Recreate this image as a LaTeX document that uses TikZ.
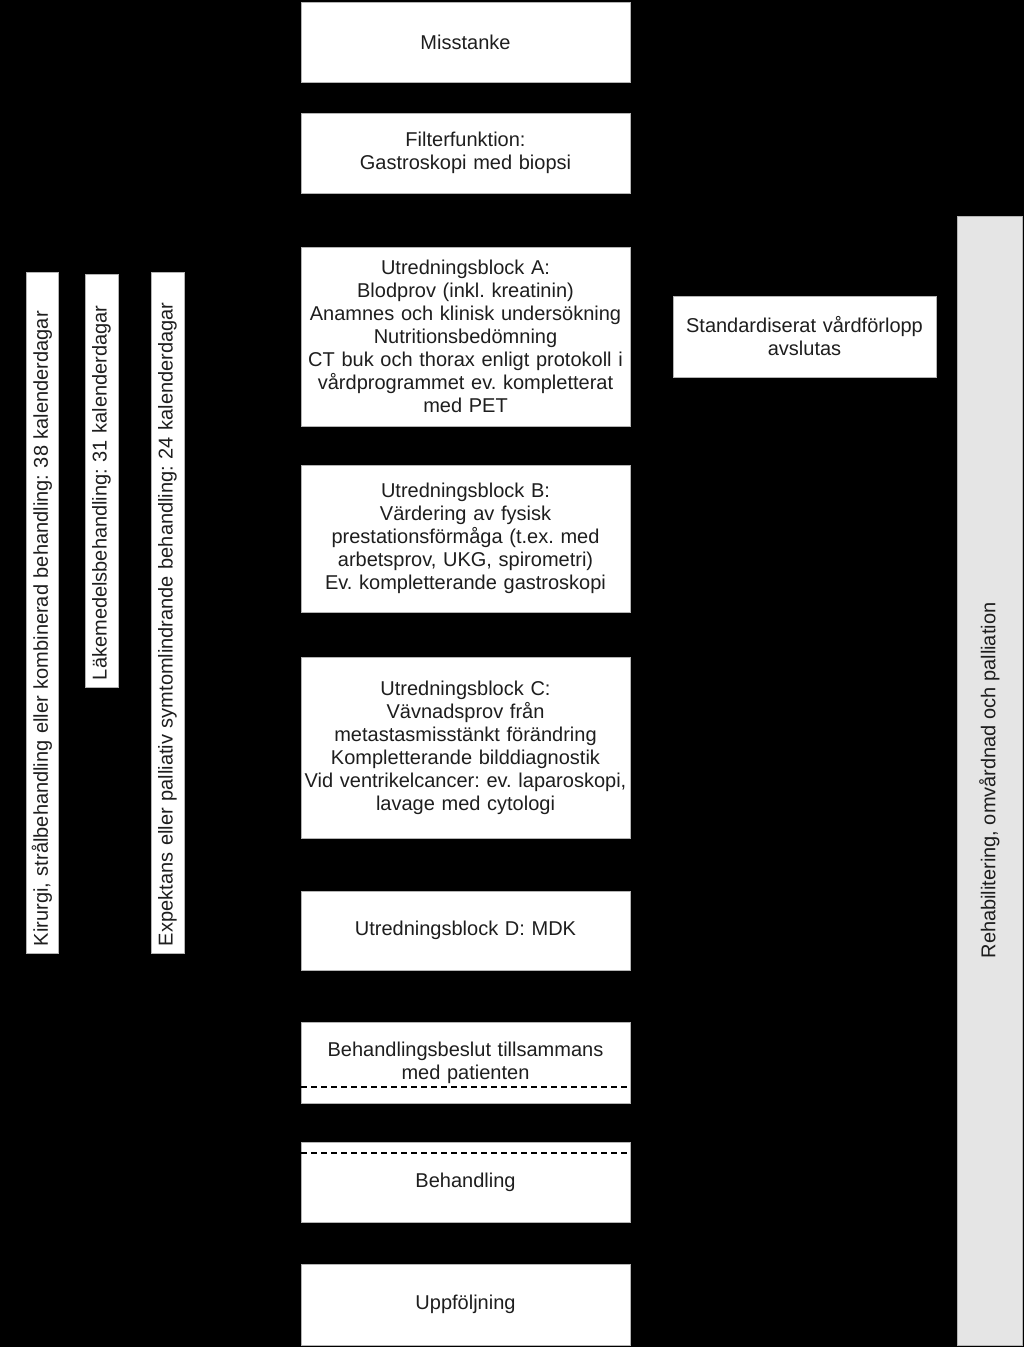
\documentclass[tikz,border=0pt]{standalone}
\usepackage{fontspec}
\setmainfont{Liberation Sans}
\usetikzlibrary{positioning}
\frenchspacing
\definecolor{boxline}{HTML}{B4B4B4}
\definecolor{rehabgrey}{HTML}{E5E5E5}
\definecolor{inktext}{HTML}{1E1E1E}
\tikzset{
  stage/.style={rectangle, draw=boxline, fill=white, line width=0.8pt,
                minimum width=329pt, minimum height=#1, text width=327pt,
                inner sep=0pt, outer sep=0pt, align=center, text=inktext,
                font=\fontsize{20}{23}\selectfont},
  stage/.default=80pt,
  timebar/.style={rectangle, draw=boxline, fill=white, line width=0.8pt,
                  rotate=90, minimum width=#1, minimum height=32pt,
                  inner sep=0pt, outer sep=0pt, align=left, text=inktext,
                  font=\fontsize{20}{23}\selectfont},
  cutline/.style={dashed, dash pattern=on 6pt off 4pt, line width=1.4pt, black},
}

\begin{document}
\begin{tikzpicture}[x=1pt, y=-1pt]

  % Background
  \useasboundingbox (0,0) rectangle (1024,1347);
  \fill[black] (0,0) rectangle (1024,1347);

  % Main column
  \node[stage] (miss) at (465.5,42) {Misstanke};
  \node[stage, below=31pt of miss] (filter) {Filterfunktion:\\Gastroskopi med biopsi};
  \node[stage=179pt, below=54pt of filter] (blockA)
    {Utredningsblock A:\\Blodprov (inkl. kreatinin)\\Anamnes och klinisk undersökning\\Nutritionsbedömning\\CT buk och thorax enligt protokoll i\\vårdprogrammet ev. kompletterat\\med PET};
  \node[stage=147pt, below=39pt of blockA] (blockB)
    {Utredningsblock B:\\Värdering av fysisk\\prestationsförmåga (t.ex. med\\arbetsprov, UKG, spirometri)\\Ev. kompletterande gastroskopi};
  \node[stage=181pt, below=45pt of blockB] (blockC)
    {Utredningsblock C:\\Vävnadsprov från\\metastasmisstänkt förändring\\Kompletterande bilddiagnostik\\Vid ventrikelcancer: ev. laparoskopi,\\lavage med cytologi};
  \node[stage=79pt, below=53pt of blockC] (blockD) {Utredningsblock D: MDK};
  \node[stage=81pt, below=52pt of blockD] (beslut)
    {Behandlingsbeslut tillsammans\\med patienten\\[6pt]};
  \node[stage, below=39pt of beslut] (behandling) {Behandling};
  \node[stage=81pt, below=42pt of behandling] (uppfolj) {Uppföljning};

  % Dashed limits
  \draw[cutline] ([yshift=16pt]beslut.south west) -- ([yshift=16pt]beslut.south east);
  \draw[cutline] ([yshift=-11pt]behandling.north west) -- ([yshift=-11pt]behandling.north east);

  % Exit of the pathway
  \node[stage=81pt, minimum width=263pt, text width=262pt] (avslut) at (804.5,336.5)
    {Standardiserat vårdförlopp\\avslutas};

  % Time bars
  \node[timebar=681pt, text width=667pt] (kirurgi) at (42,612.5)
    {Kirurgi, strålbehandling eller kombinerad behandling: 38 kalenderdagar};
  \node[timebar=413pt, text width=399pt, minimum height=33pt] (lakemedel) at (101.5,480.5)
    {Läkemedelsbehandling: 31 kalenderdagar};
  \node[timebar=681pt, text width=667pt, minimum height=33pt] (expektans) at (167.5,612.5)
    {Expektans eller palliativ symtomlindrande behandling: 24 kalenderdagar};

  % Rehabilitation bar
  \node[timebar=1129pt, minimum height=65pt, fill=rehabgrey, align=center] (rehab) at (989.5,780.5)
    {Rehabilitering, omvårdnad och palliation};

\end{tikzpicture}
\end{document}
